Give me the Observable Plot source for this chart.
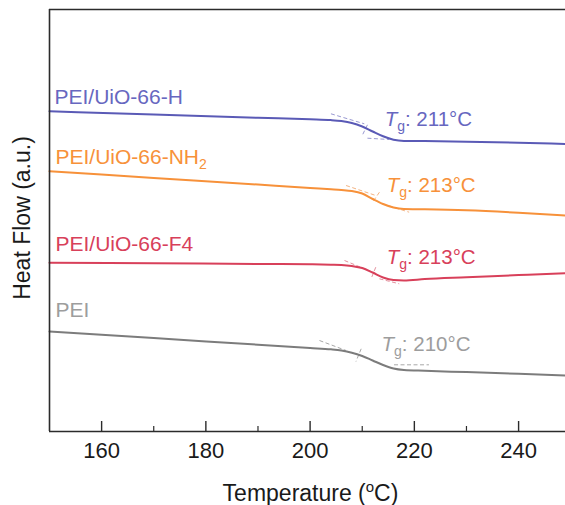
<!DOCTYPE html>
<html><head><meta charset="utf-8">
<script src="https://cdn.jsdelivr.net/npm/d3@7"></script>
<script src="https://cdn.jsdelivr.net/npm/@observablehq/plot@0.6"></script>
<style>
html,body{margin:0;padding:0;background:#fff;}
#chart svg{display:block;}
</style>
</head><body><div id="chart"></div>
<script>
// Temperature (°C) sample points
const temps = [150,170,190,200,204,206,208,210,212,214,216,218,222,230,240,249];
// Heat flow (a.u., stacked offsets)
const heatH   = [32.03,31.69,31.37,31.22,31.14,31.04,30.85,30.50,30.00,29.52,29.18,29.06,29.04,28.98,28.87,28.75];
const heatNH2 = [26.03,25.36,24.69,24.35,24.22,24.15,24.05,23.80,23.25,22.75,22.40,22.25,22.22,22.12,21.88,21.60];
const heatF4  = [16.87,16.82,16.75,16.72,16.68,16.65,16.55,16.35,15.90,15.40,15.14,15.10,15.24,15.42,15.64,15.83];
const heatPEI = [10.00,9.34,8.68,8.35,8.22,8.10,7.88,7.55,7.10,6.65,6.30,6.15,6.07,5.94,5.77,5.60];

const seriesNames = ["PEI/UiO-66-H","PEI/UiO-66-NH2","PEI/UiO-66-F4","PEI"];
const tgValues = [211,213,213,210];
const xTicks = [160,180,200,220,240];
const xMinorTicks = [170,190,210,230];

// series label anchors (temperature, heat flow)
const nameX = [150.96,151.15,151.15,151.15];
const nameY = [32.77,26.77,18.10,11.50];
const tgX = [214.3,214.7,214.7,213.7];
const tgY = [30.60,23.93,16.77,8.10];

// tangent construction segments: series index, x1, y1, x2, y2
const tanSeries = [0,0,0, 1,1,1, 2,2,2, 3,3,3];
const tanX1 = [204.0,211.0,211.0, 206.9,213.3,213.9, 206.6,212.6,213.3, 201.8,209.8,216.1];
const tanY1 = [31.77,30.67,29.33, 24.60,23.93,22.77, 17.10,16.43,15.27, 9.10,8.27,6.67];
const tanX2 = [210.4,210.0,215.2, 212.6,212.0,219.0, 212.0,211.7,217.1, 206.9,208.8,222.8];
const tanY2 = [30.77,29.60,29.20, 23.60,22.93,21.93, 15.93,15.27,14.77, 8.10,7.00,6.67];

const lineColors = ["#5a5ab6","#f7913a","#d8405a","#7c7c7c"];
const textColors = ["#6767c0","#f7913a","#d8405a","#9d9d9d"];
const dashColors = ["#9a9ad2","#f4b483","#e3909d","#a8a8a8"];

const seriesVals = [heatH, heatNH2, heatF4, heatPEI];
const lineData = seriesNames.flatMap((s, i) => temps.map((t, j) => ({s: i, t, v: seriesVals[i][j]})));
const tanData = tanSeries.map((s, i) => ({s, x1: tanX1[i], y1: tanY1[i], x2: tanX2[i], y2: tanY2[i]}));
const nameData = seriesNames.map((n, i) => ({s: i, n, x: nameX[i], y: nameY[i]}));
const tgData = tgValues.map((g, i) => ({s: i, g, x: tgX[i], y: tgY[i]}));

const yMax = 42.2;
const font = "'Liberation Sans', Arial, Helvetica, sans-serif";
const axisColor = "#2b2b2b";

const plot = Plot.plot({
  width: 565, height: 505,
  marginLeft: 49, marginRight: 0, marginTop: 9, marginBottom: 74,
  style: {fontFamily: font, background: "#fff"},
  x: {domain: [150, 249]},
  y: {domain: [0, yMax], axis: null},
  marks: [
    Plot.link(tanData, {x1: "x1", y1: "y1", x2: "x2", y2: "y2", stroke: d => dashColors[d.s], strokeWidth: 1, strokeDasharray: "4,2.5"}),
    ...[0,1,2,3].map(i => Plot.line(lineData.filter(d => d.s === i), {x: "t", y: "v", stroke: lineColors[i], strokeWidth: 2, curve: "monotone-x"})),
    Plot.ruleY([0], {stroke: axisColor, strokeWidth: 1.6}),
    Plot.ruleY([yMax], {stroke: axisColor, strokeWidth: 1.4}),
    Plot.ruleX([150], {stroke: axisColor, strokeWidth: 1.6}),
    Plot.ruleX(xTicks, {stroke: axisColor, strokeWidth: 1.4, insetTop: 412}),
    Plot.ruleX(xMinorTicks, {stroke: axisColor, strokeWidth: 1.2, insetTop: 417}),
    Plot.axisX({ticks: xTicks, tickSize: 0, tickPadding: 11, fontSize: 22, label: null, color: "#1a1a1a", tickFormat: d => String(d)}),
    Plot.text(nameData, {x: "x", y: "y", text: "n", fill: d => textColors[d.s], fontSize: 21, textAnchor: "start", lineAnchor: "bottom"}),
    Plot.text(tgData, {x: "x", y: "y", text: d => `Tg: ${d.g}°C`, fill: d => textColors[d.s], fontSize: 20.5, textAnchor: "start", lineAnchor: "bottom"}),
    Plot.text(["Temperature (oC)"], {frameAnchor: "bottom", dx: 3, dy: 69, fontSize: 23, textAnchor: "middle", lineAnchor: "bottom", fill: "#1a1a1a"}),
    Plot.text(["Heat Flow (a.u.)"], {frameAnchor: "left", rotate: -90, dx: -27, dy: -2.5, fontSize: 23, textAnchor: "middle", lineAnchor: "middle", fill: "#1a1a1a"})
  ]
});

const NS = "http://www.w3.org/2000/svg";
function ts(text, attrs) {
  const e = document.createElementNS(NS, "tspan");
  for (const k in attrs) e.setAttribute(k, attrs[k]);
  e.textContent = text;
  return e;
}
const svgRoot = plot.tagName.toLowerCase() === "svg" ? plot : plot.querySelector("svg");
Array.from(plot.querySelectorAll("text")).forEach(t => {
  const s = t.textContent;
  if (/^Tg: /.test(s)) {
    while (t.firstChild) t.removeChild(t.firstChild);
    t.appendChild(ts("T", {"font-style": "italic"}));
    t.appendChild(ts("g", {"font-size": "14", dy: "5"}));
    t.appendChild(ts(s.slice(2), {dy: "-5"}));
  } else if (s === "PEI/UiO-66-NH2") {
    while (t.firstChild) t.removeChild(t.firstChild);
    t.appendChild(ts("PEI/UiO-66-NH", {}));
    t.appendChild(ts("2", {"font-size": "14", dy: "5"}));
  } else if (s === "Temperature (oC)") {
    while (t.firstChild) t.removeChild(t.firstChild);
    t.appendChild(ts("Temperature (", {}));
    t.appendChild(ts("o", {"font-size": "15", dy: "-9"}));
    t.appendChild(ts("C)", {dy: "9"}));
  }
});

document.getElementById("chart").appendChild(plot);
</script>
</body></html>
